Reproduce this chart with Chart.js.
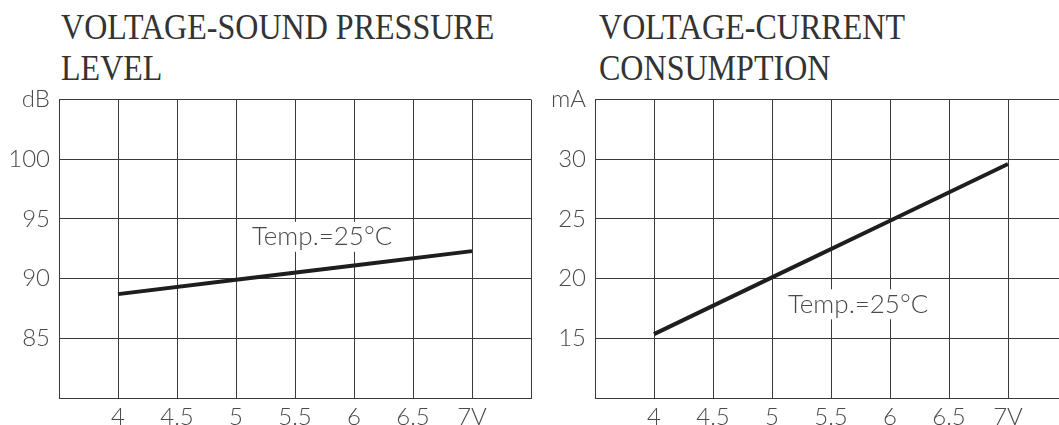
<!DOCTYPE html>
<html>
<head>
<meta charset="utf-8">
<script src="https://cdn.jsdelivr.net/npm/chart.js@4/dist/chart.umd.min.js"></script>
<style>
  html, body { margin: 0; padding: 0; background: #fff; width: 1059px; height: 425px; overflow: hidden; position: relative; }
  .title { position: absolute; font-family: "Liberation Serif", "Times New Roman", serif; font-size: 36px; line-height: 40.5px; color: #333; transform: scaleX(0.89); transform-origin: left top; white-space: nowrap; }
  .wrap { position: absolute; top: 0; width: 536px; height: 425px; }
</style>
</head>
<body>
<div class="title" style="left:61px; top:7px;">VOLTAGE-SOUND PRESSURE<br>LEVEL</div>
<div class="title" style="left:599px; top:7px;">VOLTAGE-CURRENT<br>CONSUMPTION</div>
<div class="wrap" style="left:0px;"><canvas id="c1" width="536" height="425"></canvas></div>
<div class="wrap" style="left:536px;"><canvas id="c2" width="536" height="425"></canvas></div>
<script>
// ---- data ----
const voltage = [4, 5, 6, 7];
const splValues = [88.7, 89.9, 91.1, 92.3];
const currentValues = [15.35, 20.1, 24.85, 29.6];
const xTickLabels = { 4: '4', 4.5: '4.5', 5: '5', 5.5: '5.5', 6: '6', 6.5: '6.5', 7: '7V' };
const splUnit = 'dB';
const currentUnit = 'mA';
const annotationText = 'Temp.=25\u00B0C';

const tickFont = { family: 'Lato, "DejaVu Sans", sans-serif', size: 24, weight: 300 };
const tickColor = '#4a4a4a';
const gridColor = '#3a3a3a';

const annotationPlugin = {
  id: 'tempNote',
  beforeDatasetsDraw(chart, args, opts) {
    const ctx = chart.ctx;
    const px = chart.scales.x.getPixelForValue(opts.x);
    const py = chart.scales.y.getPixelForValue(opts.y);
    ctx.save();
    ctx.font = '300 26px Lato, "DejaVu Sans", sans-serif';
    const w = ctx.measureText(opts.text).width;
    ctx.fillStyle = '#fff';
    ctx.fillRect(px - w / 2 - 4, py - 15, w + 8, 30);
    ctx.fillStyle = tickColor;
    ctx.textAlign = 'center';
    ctx.textBaseline = 'middle';
    ctx.fillText(opts.text, px, py);
    ctx.restore();
  }
};

function makeChart(id, values, yMin, yMax, unit, note) {
  const pts = voltage.map((v, i) => ({ x: v, y: values[i] }));
  return new Chart(document.getElementById(id), {
    type: 'line',
    data: { datasets: [{ data: pts, borderColor: '#1e1e1e', borderWidth: 4, pointRadius: 0, tension: 0, fill: false }] },
    options: {
      responsive: false,
      animation: false,
      devicePixelRatio: 1,
      layout: { padding: { top: 99.5, right: 3, left: 0, bottom: 0 } },
      plugins: { legend: { display: false }, tooltip: { enabled: false }, tempNote: note },
      scales: {
        x: {
          type: 'linear', min: 3.5, max: 7.5,
          afterFit: s => { s.height = 27; },
          ticks: {
            stepSize: 0.5, padding: 5, color: tickColor, font: tickFont, maxRotation: 0, autoSkip: false,
            callback: v => (xTickLabels[v] !== undefined ? xTickLabels[v] : '')
          },
          grid: { color: gridColor, lineWidth: 1, drawTicks: false },
          border: { display: true, color: gridColor, width: 1 }
        },
        y: {
          type: 'linear', min: yMin, max: yMax,
          afterFit: s => { s.width = 59; },
          ticks: {
            stepSize: 5, padding: 9, color: tickColor, font: tickFont,
            callback: v => (v === yMax ? unit : (v === yMin ? '' : String(v)))
          },
          grid: { color: gridColor, lineWidth: 1, drawTicks: false },
          border: { display: true, color: gridColor, width: 1 }
        }
      }
    },
    plugins: [annotationPlugin]
  });
}

makeChart('c1', splValues, 80, 105, splUnit, { x: 5.73, y: 93.5, text: annotationText });
makeChart('c2', currentValues, 10, 35, currentUnit, { x: 5.73, y: 17.85, text: annotationText });
</script>
</body>
</html>
